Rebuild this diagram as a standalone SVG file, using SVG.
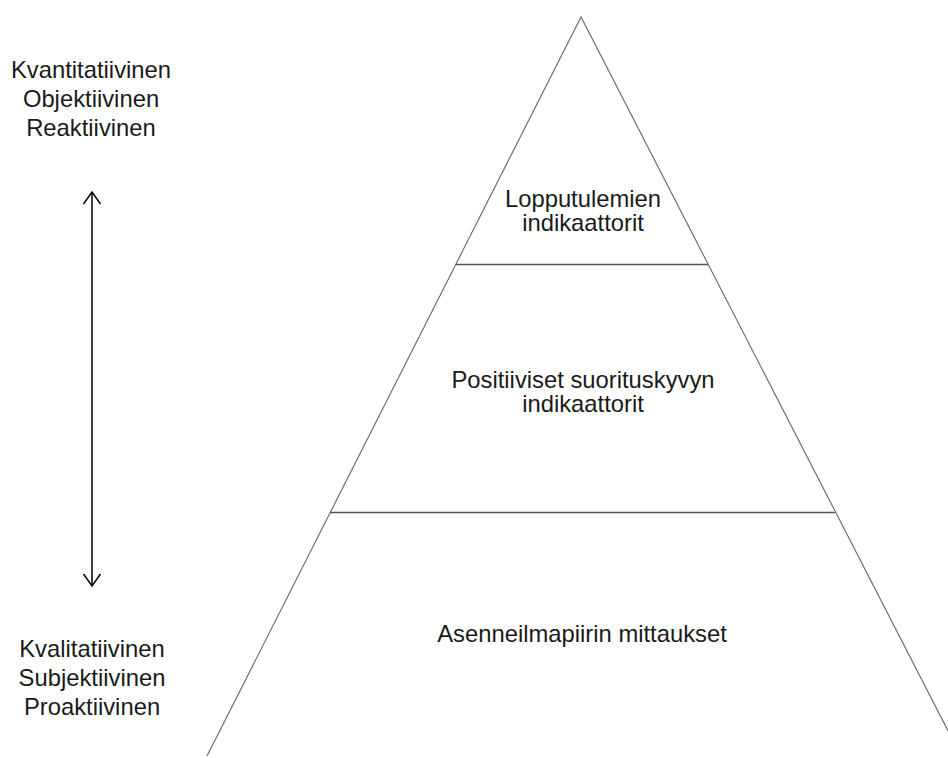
<svg xmlns="http://www.w3.org/2000/svg" width="948" height="758" viewBox="0 0 948 758">
  <defs>
    <marker id="head" viewBox="0 0 20 20" refX="18" refY="10" markerWidth="20" markerHeight="20" markerUnits="userSpaceOnUse" orient="auto-start-reverse">
      <path d="M6,1.5 L18,10 L6,18.5" fill="none" stroke="#000" stroke-width="1.4"/>
    </marker>
    <style>
      .lbl { font-family: "Liberation Sans", Arial, sans-serif; font-size: 23.8px; fill: #1a1a1a; text-anchor: middle; }
      .edge { fill: none; stroke: #666; stroke-width: 1.1; }
      .tier { stroke: #555; stroke-width: 1.6; }
    </style>
  </defs>
  <rect width="948" height="758" fill="#fff"/>

  <!-- pyramid outline -->
  <g id="pyramid">
    <polyline class="edge" points="207,756 581,17 961,756"/>
    <line class="tier" x1="456" y1="264.5" x2="708" y2="264.5"/>
    <line class="tier" x1="330" y1="512.5" x2="835" y2="512.5"/>
  </g>

  <g id="tier-top">
    <text class="lbl" x="583" y="207">Lopputulemien</text>
    <text class="lbl" x="583" y="231">indikaattorit</text>
  </g>
  <g id="tier-middle">
    <text class="lbl" x="583" y="388">Positiiviset suorituskyvyn</text>
    <text class="lbl" x="583" y="412">indikaattorit</text>
  </g>
  <g id="tier-bottom">
    <text class="lbl" x="582" y="642">Asenneilmapiirin mittaukset</text>
  </g>

  <g id="scale-top">
    <text class="lbl" x="91" y="78">Kvantitatiivinen</text>
    <text class="lbl" x="91" y="107">Objektiivinen</text>
    <text class="lbl" x="91" y="136">Reaktiivinen</text>
  </g>
  <g id="scale-bottom">
    <text class="lbl" x="92" y="657">Kvalitatiivinen</text>
    <text class="lbl" x="92" y="686">Subjektiivinen</text>
    <text class="lbl" x="92" y="715">Proaktiivinen</text>
  </g>

  <!-- double-headed scale arrow -->
  <g id="connectors">
    <line x1="92" y1="192" x2="92" y2="586" stroke="#000" stroke-width="1.5" marker-start="url(#head)" marker-end="url(#head)"/>
  </g>
</svg>
